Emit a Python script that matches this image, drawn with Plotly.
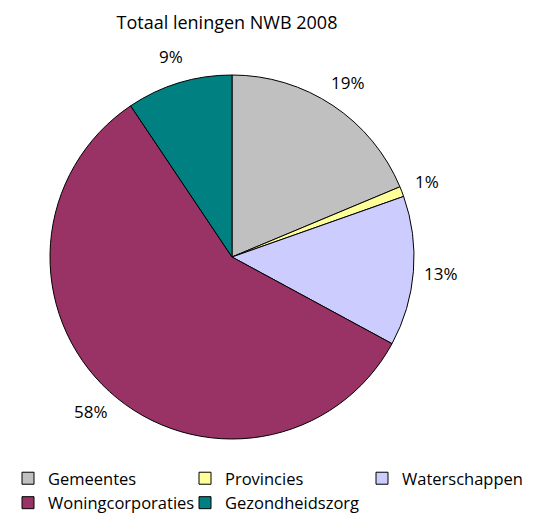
import math
import plotly.graph_objects as go

categories = ["Gemeentes", "Provincies", "Waterschappen", "Woningcorporaties", "Gezondheidszorg"]
values = [18.7, 0.9, 13.3, 57.7, 9.4]
colors = ["#C0C0C0", "#FFFF99", "#CCCCFF", "#993366", "#008080"]
title = "Totaal leningen NWB 2008"

W, H = 539, 517
# page body adds an 8px offset; layout positions below are in figure pixels
cx, cy, R = 224, 249, 182
FONT = "'Open Sans', Lato, sans-serif"

fig = go.Figure(go.Pie(
    labels=categories, values=values, sort=False, direction="clockwise", rotation=0,
    marker=dict(colors=colors, line=dict(color="black", width=1)),
    textinfo="none", hoverinfo="label+percent",
    domain=dict(x=[(cx - R) / W, (cx + R) / W], y=[(H - cy - R) / H, (H - cy + R) / H]),
))

total = sum(values)
cum = 0
annotations = []
for v in values:
    mid = (cum + v / 2) / total * 2 * math.pi
    cum += v
    r = R * 1.15
    x = cx + r * math.sin(mid)
    y = cy - r * math.cos(mid)
    annotations.append(dict(x=x / W, y=1 - y / H, xref="paper", yref="paper",
                            xanchor="center", yanchor="middle",
                            text=f"{round(v / total * 100)}%", showarrow=False,
                            font=dict(size=17, color="black", family=FONT)))

fig.update_layout(
    width=W, height=H, margin=dict(l=0, r=0, t=0, b=0, autoexpand=False),
    paper_bgcolor="white", plot_bgcolor="white",
    title=dict(text=title, x=219 / W, xanchor="center", y=1 - 15 / H, yanchor="middle",
               font=dict(size=18, color="black", family=FONT)),
    annotations=annotations,
    legend=dict(orientation="h", x=0, xanchor="left", y=1 - 453 / H, yanchor="top",
                entrywidth=132, entrywidthmode="pixels", traceorder="normal",
                font=dict(size=16.5, color="black", family=FONT)),
)

fig.write_html("out.html")
